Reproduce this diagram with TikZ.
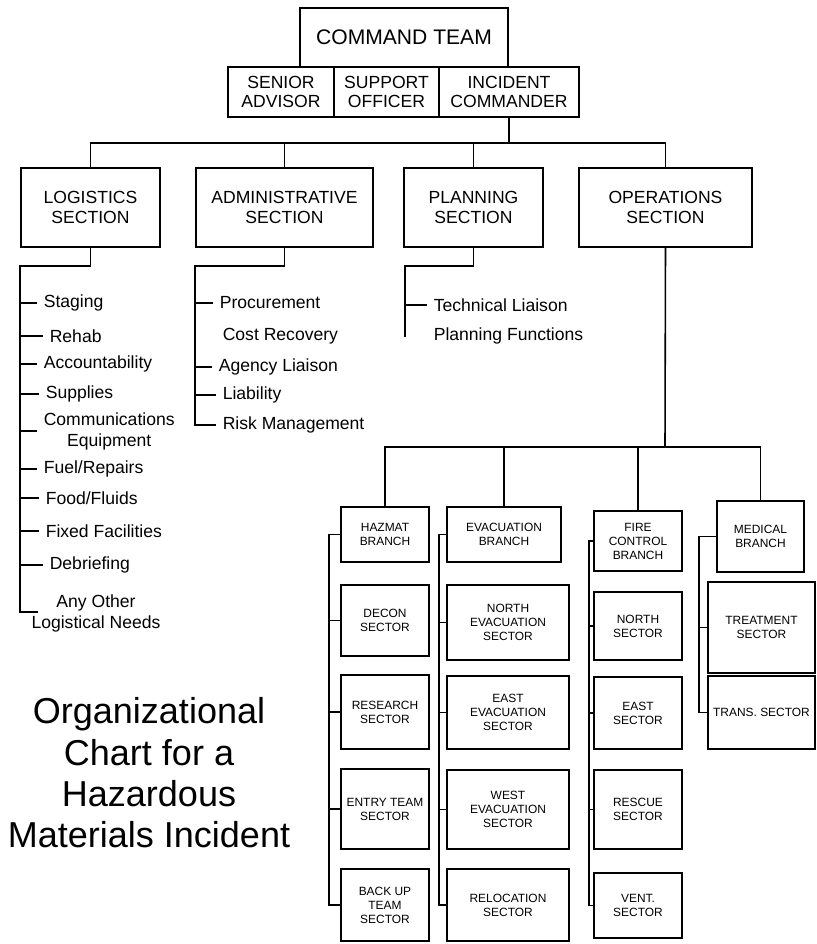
\documentclass[tikz,border=0pt]{standalone}
\usepackage{fontspec}
\setmainfont{Liberation Sans}
\usepackage{tikz}
\usetikzlibrary{positioning}
\usetikzlibrary{calc}

\begin{document}
\begin{tikzpicture}[
            x = 0.02cm, y = -0.02cm, % one unit per pixel
            line width = 0.9pt, % line style
            line cap = rect
        ]

        \tikzstyle{box}=[
            draw,
            align = center,
            inner sep = 1pt
        ]
        \tikzstyle{cmdbox}=[box, minimum height = 1cm, font = \fontsize{10}{10.5}\selectfont]
        \tikzstyle{secbox}=[box, minimum height = 1.58cm, font = \fontsize{10}{11}\selectfont]
        \tikzstyle{sector}=[box, font = \fontsize{6.8}{8}\selectfont]
        \tikzstyle{item}=[anchor = west, inner xsep = 0.14cm, font = \fontsize{10}{12}\selectfont]

        \useasboundingbox (0,0) rectangle (817,944);

% command level
        \node[cmdbox, minimum width = 4.16cm, minimum height = 1.18cm, font = \fontsize{12}{14}\selectfont] (cmd) at (404,37.5) {COMMAND TEAM};
        \node[cmdbox, minimum width = 2.12cm] (sen) at (281,92) {SENIOR\\ADVISOR};
        \node[cmdbox, minimum width = 2.1cm] (sup) at (386.5,92) {SUPPORT\\OFFICER};
        \node[cmdbox, minimum width = 2.8cm] (ic) at (509,92) {INCIDENT\\COMMANDER};

% section level
        \node[secbox, minimum width = 2.78cm] (log) at (90.5,207.5) {LOGISTICS\\SECTION};
        \node[secbox, minimum width = 3.54cm] (adm) at (284.5,207.5) {ADMINISTRATIVE\\SECTION};
        \node[secbox, minimum width = 2.78cm] (pln) at (473.5,207.5) {PLANNING\\SECTION};
        \node[secbox, minimum width = 3.46cm] (ops) at (665.5,207.5) {OPERATIONS\\SECTION};

        \coordinate (bus) at (509,143);
        \draw (ic.south) -- (bus);
        \draw (log.north) |- (bus);
        \draw (adm.north) |- (bus);
        \draw (pln.north) |- (bus);
        \draw (ops.north) |- (bus);

% logistics list
        \node[item] (stg) at (36,303) {Staging};
        \node[item] (reh) at (42,336) {Rehab};
        \node[item] (acc) at (36,364) {Accountability};
        \node[item] (spl) at (38,394) {Supplies};
        \node[item, align = center] (com) at (36,431) {Communications\\Equipment};
        \node[item] (fue) at (36,469) {Fuel/Repairs};
        \node[item] (foo) at (38,498) {Food/Fluids};
        \node[item] (fix) at (38,531) {Fixed Facilities};
        \node[item] (deb) at (42,565) {Debriefing};
        \node[font = \fontsize{10}{12}\selectfont, align = center] (any) at (96,613) {Any Other\\Logistical Needs};

        \coordinate (logs) at (20,266);
        \coordinate (loge) at (37,612);
        \draw (log.south) |- (logs) |- (loge);
        \draw (stg.west -| logs) -- (stg.west);
        \draw (reh.west -| logs) -- (reh.west);
        \draw (acc.west -| logs) -- (acc.west);
        \draw (spl.west -| logs) -- (spl.west);
        \draw (com.west -| logs) -- (com.west);
        \draw (fue.west -| logs) -- (fue.west);
        \draw (foo.west -| logs) -- (foo.west);
        \draw (fix.west -| logs) -- (fix.west);
        \draw (deb.west -| logs) -- (deb.west);

% administrative list
        \node[item] (pro) at (212,303) {Procurement};
        \node[item] (cst) at (215,336) {Cost Recovery};
        \node[item] (age) at (211,367) {Agency Liaison};
        \node[item] (lia) at (215,395) {Liability};
        \node[item] (rsk) at (215,425) {Risk Management};

        \coordinate (adms) at (195,266);
        \draw (adm.south) |- (adms) |- (rsk.west);
        \draw (pro.west -| adms) -- (pro.west);
        \draw (age.west -| adms) -- (age.west);
        \draw (lia.west -| adms) -- (lia.west);

% planning list
        \node[item] (tec) at (426,305) {Technical Liaison};
        \node[item] (plf) at (426,336) {Planning Functions};

        \coordinate (plns) at (405,266);
        \draw (pln.south) |- (plns) -- (plns |- plf.west);
        \draw (tec.west -| plns) -- (tec.west);

% branch level
        \node[sector, minimum width = 1.76cm, minimum height = 1.1cm] (hzb) at (385,534.5) {HAZMAT\\BRANCH};
        \node[sector, minimum width = 2.28cm, minimum height = 1.1cm] (evb) at (504,534.5) {EVACUATION\\BRANCH};
        \node[sector, minimum width = 1.76cm, minimum height = 1.2cm] (fcb) at (638,541) {FIRE\\CONTROL\\BRANCH};
        \node[sector, minimum width = 1.74cm, minimum height = 1.42cm] (mdb) at (760.5,536.5) {MEDICAL\\BRANCH};

        \coordinate (bus2) at (665,447);
        \draw (ops.south) -- (bus2);
        \draw (hzb.north) |- (bus2);
        \draw (evb.north) |- (bus2);
        \draw (fcb.north) |- (bus2);
        \draw (mdb.north) |- (bus2);

% hazmat sectors
        \node[sector, minimum width = 1.76cm, minimum height = 1.42cm] (dec) at (385,620.5) {DECON\\SECTOR};
        \node[sector, minimum width = 1.76cm, minimum height = 1.48cm] (res) at (385,712) {RESEARCH\\SECTOR};
        \node[sector, minimum width = 1.76cm, minimum height = 1.6cm] (ent) at (385,809) {ENTRY TEAM\\SECTOR};
        \node[sector, minimum width = 1.76cm, minimum height = 1.44cm] (bku) at (385,905) {BACK UP\\TEAM\\SECTOR};

        \coordinate (hzs) at (329,534.5);
        \draw (hzb.west) -- (hzs) |- (bku.west);
        \draw (dec.west -| hzs) -- (dec.west);
        \draw (res.west -| hzs) -- (res.west);
        \draw (ent.west -| hzs) -- (ent.west);

% evacuation sectors
        \node[sector, minimum width = 2.44cm, minimum height = 1.5cm] (nev) at (508,622.5) {NORTH\\EVACUATION\\SECTOR};
        \node[sector, minimum width = 2.44cm, minimum height = 1.46cm] (eev) at (508,712.5) {EAST\\EVACUATION\\SECTOR};
        \node[sector, minimum width = 2.44cm, minimum height = 1.58cm] (wev) at (508,809.5) {WEST\\EVACUATION\\SECTOR};
        \node[sector, minimum width = 2.44cm, minimum height = 1.44cm] (rel) at (508,905) {RELOCATION\\SECTOR};

        \coordinate (evs) at (439,534.5);
        \draw (evb.west) -- (evs) |- (rel.west);
        \draw (nev.west -| evs) -- (nev.west);
        \draw (eev.west -| evs) -- (eev.west);
        \draw (wev.west -| evs) -- (wev.west);

% fire control sectors
        \node[sector, minimum width = 1.76cm, minimum height = 1.36cm] (nos) at (638,626) {NORTH\\SECTOR};
        \node[sector, minimum width = 1.76cm, minimum height = 1.44cm] (eas) at (638,713) {EAST\\SECTOR};
        \node[sector, minimum width = 1.76cm, minimum height = 1.58cm] (rsc) at (638,809.5) {RESCUE\\SECTOR};
        \node[sector, minimum width = 1.76cm, minimum height = 1.3cm] (vnt) at (638,905.5) {VENT.\\SECTOR};

        \coordinate (fcs) at (589,541);
        \draw (fcb.west) -- (fcs) |- (vnt.west);
        \draw (nos.west -| fcs) -- (nos.west);
        \draw (eas.west -| fcs) -- (eas.west);
        \draw (rsc.west -| fcs) -- (rsc.west);

% medical sectors
        \node[sector, minimum width = 2.14cm, minimum height = 1.82cm] (trt) at (761.5,627.5) {TREATMENT\\SECTOR};
        \node[sector, minimum width = 2.14cm, minimum height = 1.46cm] (trn) at (761.5,712.5) {TRANS. SECTOR};

        \coordinate (mds) at (699,536.5);
        \draw (mdb.west) -- (mds) |- (trn.west);
        \draw (trt.west -| mds) -- (trt.west);

% title
        \node[font = \fontsize{20.5}{23.5}\selectfont, align = center] (ttl) at (149,773) {Organizational\\Chart for a\\Hazardous\\Materials Incident};

\end{tikzpicture}
\end{document}
